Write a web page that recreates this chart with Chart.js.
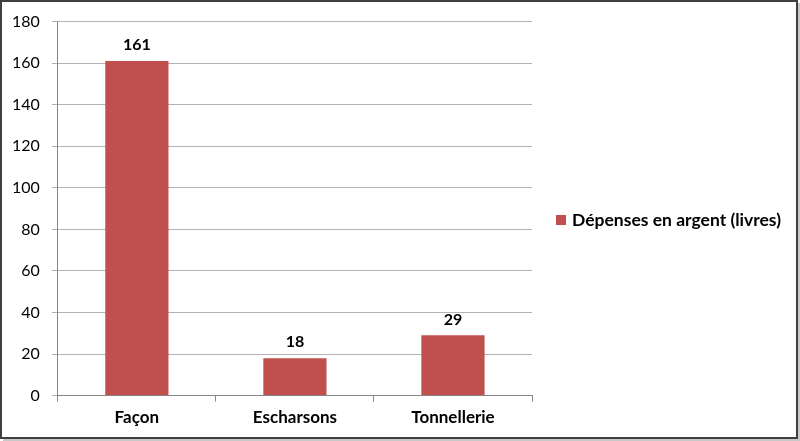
<!DOCTYPE html>
<html>
<head>
<meta charset="utf-8">
<script src="https://cdn.jsdelivr.net/npm/chart.js@4"></script>
<style>
    html, body { margin: 0; padding: 0; background: #ffffff; }
    #wrap { width: 800px; height: 441px; position: relative; }
</style>
</head>
<body>
<div id="wrap"><canvas id="depensesChart" width="800" height="441"></canvas></div>
<script>
// Chart data
const categories = ['Façon', 'Escharsons', 'Tonnellerie'];
const depenses = [161, 18, 29];
const seriesLabel = 'Dépenses en argent (livres)';
const yTicks = [0, 20, 40, 60, 80, 100, 120, 140, 160, 180];

const FONT = 'Lato, "Open Sans", sans-serif';
const BAR_COLOR = '#C0504D';

// Frame around the whole chart (Excel-like border + shadow)
const framePlugin = {
    id: 'frame',
    beforeDraw(chart) {
        const ctx = chart.ctx;
        const w = chart.width, h = chart.height;
        ctx.save();
        ctx.fillStyle = '#ffffff';
        ctx.fillRect(0, 0, w, h);
        // shadow on right / bottom
        ctx.fillStyle = '#c8c8c8';
        ctx.fillRect(w - 3, 3, 3, h - 3);
        ctx.fillRect(3, h - 3, w - 3, 3);
        ctx.strokeStyle = '#3f3f3f';
        ctx.lineWidth = 2;
        ctx.strokeRect(1, 1, w - 4, h - 4);
        ctx.restore();
    }
};

// Value labels above bars
const valueLabels = {
    id: 'valueLabels',
    afterDatasetsDraw(chart) {
        const ctx = chart.ctx;
        const meta = chart.getDatasetMeta(0);
        ctx.save();
        ctx.font = 'bold 16px ' + FONT;
        ctx.fillStyle = '#000000';
        ctx.textAlign = 'center';
        ctx.textBaseline = 'bottom';
        meta.data.forEach((bar, i) => {
            ctx.fillText(depenses[i], bar.x, bar.y - 8);
        });
        ctx.restore();
    }
};

// Legend on the right, drawn next to the plot area
const sideLegend = {
    id: 'sideLegend',
    afterDraw(chart) {
        const ctx = chart.ctx;
        const area = chart.chartArea;
        const x = area.right + 24;
        const y = 220;
        ctx.save();
        ctx.fillStyle = BAR_COLOR;
        ctx.fillRect(x, y - 5, 10, 10);
        ctx.font = 'bold 17.5px ' + FONT;
        ctx.fillStyle = '#000000';
        ctx.textAlign = 'left';
        ctx.textBaseline = 'middle';
        ctx.fillText(seriesLabel, x + 16, y);
        ctx.restore();
    }
};

new Chart(document.getElementById('depensesChart'), {
    type: 'bar',
    data: {
        labels: categories,
        datasets: [{
            label: seriesLabel,
            data: depenses,
            backgroundColor: BAR_COLOR,
            borderWidth: 0,
            barPercentage: 0.4,
            categoryPercentage: 1.0
        }]
    },
    options: {
        responsive: false,
        animation: false,
        layout: {
            padding: { left: 0, top: 14, right: 268, bottom: 7 }
        },
        plugins: {
            legend: { display: false },
            tooltip: { enabled: false }
        },
        scales: {
            x: {
                grid: {
                    display: true,
                    drawOnChartArea: false,
                    drawTicks: true,
                    tickLength: 6,
                    offset: true,
                    color: '#868686'
                },
                border: { color: '#868686', width: 1 },
                ticks: {
                    color: '#000000',
                    padding: 6,
                    font: { family: FONT, size: 17, weight: 'bold' }
                }
            },
            y: {
                min: 0,
                max: 180,
                afterBuildTicks(axis) {
                    axis.ticks = yTicks.map(v => ({ value: v }));
                },
                grid: {
                    color: '#b3b3b3',
                    tickLength: 6
                },
                border: { color: '#868686', width: 1 },
                ticks: {
                    color: '#000000',
                    padding: 12,
                    font: { family: FONT, size: 16 }
                }
            }
        }
    },
    plugins: [framePlugin, valueLabels, sideLegend]
});
</script>
</body>
</html>
